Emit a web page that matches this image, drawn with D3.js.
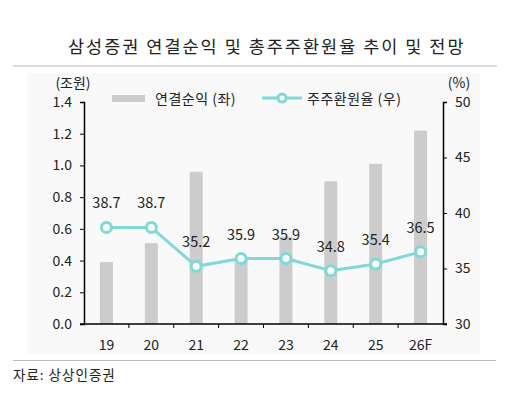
<!DOCTYPE html>
<html>
<head>
<meta charset="utf-8">
<script src="https://cdn.jsdelivr.net/npm/d3@7"></script>
<style>
  body { margin: 0; background: #fff; }
  text { font-family: "Noto Sans CJK KR", "Noto Sans", sans-serif; fill: #222; }
</style>
</head>
<body>
<script>
var width = 517,
    height = 399;

// data
var years = ["19", "20", "21", "22", "23", "24", "25", "26F"];
var netIncome = [0.39, 0.51, 0.96, 0.42, 0.55, 0.90, 1.01, 1.22];   // 조원
var payoutRatio = [38.7, 38.7, 35.2, 35.9, 35.9, 34.8, 35.4, 36.5]; // %
var leftTicks = [0, 0.2, 0.4, 0.6, 0.8, 1.0, 1.2, 1.4];
var rightTicks = [30, 35, 40, 45, 50];

var lineColor = "#7fd9d9",
    barColor = "#cccccc";

var margin = {left: 84, right: 74, top: 102, bottom: 75};

var svg = d3.select("body").append("svg")
    .attr("width", width)
    .attr("height", height);

// faint panel behind the chart
svg.append("rect")
    .attr("x", 27).attr("y", 73)
    .attr("width", 453).attr("height", 281)
    .attr("fill", "#f9f9f9");

// title + rules
svg.append("text")
    .attr("x", 68).attr("y", 53)
    .style("font-size", "17.5px")
    .style("letter-spacing", "2px")
    .text("삼성증권 연결순익 및 총주주환원율 추이 및 전망");

svg.append("line")
    .attr("x1", 13).attr("x2", 497).attr("y1", 66).attr("y2", 66)
    .attr("stroke", "#bbb").attr("stroke-width", 1);
svg.append("line")
    .attr("x1", 13).attr("x2", 496).attr("y1", 360.5).attr("y2", 360.5)
    .attr("stroke", "#bbb").attr("stroke-width", 1);

svg.append("text")
    .attr("x", 13).attr("y", 380)
    .style("font-size", "13.5px")
    .style("letter-spacing", "1px")
    .text("자료: 상상인증권");

var x = d3.scaleBand()
    .domain(years)
    .range([margin.left, width - margin.right]);

var yL = d3.scaleLinear().domain([0, 1.4]).range([height - margin.bottom, margin.top]);
var yR = d3.scaleLinear().domain([30, 50]).range([height - margin.bottom, margin.top]);

// bars
svg.selectAll(".bar")
    .data(netIncome)
  .enter().append("rect")
    .attr("class", "bar")
    .attr("x", function(d, i) { return x(years[i]) + x.bandwidth() / 2 - 6.5; })
    .attr("width", 13)
    .attr("y", function(d) { return yL(d); })
    .attr("height", function(d) { return yL(0) - yL(d); })
    .attr("fill", barColor);

// left axis
var gL = svg.append("g")
    .attr("transform", "translate(" + margin.left + ",0)")
    .call(d3.axisLeft(yL).tickValues(leftTicks).tickSize(4).tickPadding(8)
      .tickFormat(d3.format(".1f")));
// right axis
var gR = svg.append("g")
    .attr("transform", "translate(" + (width - margin.right) + ",0)")
    .call(d3.axisRight(yR).tickValues(rightTicks).tickSize(4).tickPadding(8));

// bottom axis, ticks between categories
var gB = svg.append("g")
    .attr("transform", "translate(0," + yL(0) + ")");
gB.append("line")
    .attr("x1", margin.left - 4).attr("x2", width - margin.right + 4)
    .attr("stroke", "#000").attr("stroke-width", 1.5);
gB.selectAll(".tk")
    .data(years.slice(1))
  .enter().append("line")
    .attr("x1", function(d) { return x(d); })
    .attr("x2", function(d) { return x(d); })
    .attr("y1", 0).attr("y2", 4)
    .attr("stroke", "#000");
gB.selectAll(".lbl")
    .data(years)
  .enter().append("text")
    .attr("x", function(d) { return x(d) + x.bandwidth() / 2; })
    .attr("y", 26)
    .attr("text-anchor", "middle")
    .style("font-size", "14px")
    .text(function(d) { return d; });

[gL, gR].forEach(function(g) {
  g.select(".domain").attr("stroke", "#000").attr("stroke-width", 1.5);
  g.selectAll(".tick line").attr("stroke", "#000");
  g.selectAll(".tick text").style("font-size", "14px").attr("fill", "#222");
});

// line
var line = d3.line()
    .x(function(d, i) { return x(years[i]) + x.bandwidth() / 2; })
    .y(function(d) { return yR(d); });

svg.append("path")
    .datum(payoutRatio)
    .attr("d", line)
    .attr("fill", "none")
    .attr("stroke", lineColor)
    .attr("stroke-width", 3);

svg.selectAll(".dot")
    .data(payoutRatio)
  .enter().append("circle")
    .attr("cx", function(d, i) { return x(years[i]) + x.bandwidth() / 2; })
    .attr("cy", function(d) { return yR(d); })
    .attr("r", 5)
    .attr("fill", "#fff")
    .attr("stroke", lineColor)
    .attr("stroke-width", 3);

svg.selectAll(".val")
    .data(payoutRatio)
  .enter().append("text")
    .attr("x", function(d, i) { return x(years[i]) + x.bandwidth() / 2; })
    .attr("y", function(d) { return yR(d) - 19; })
    .attr("text-anchor", "middle")
    .style("font-size", "14.5px")
    .text(function(d) { return d.toFixed(1); });

// unit labels
svg.append("text")
    .attr("x", 73).attr("y", 88)
    .attr("text-anchor", "middle")
    .style("font-size", "14px")
    .text("(조원)");
svg.append("text")
    .attr("x", 459).attr("y", 88)
    .attr("text-anchor", "middle")
    .style("font-size", "14px")
    .text("(%)");

// legend
var leg = svg.append("g");
leg.append("rect")
    .attr("x", 112).attr("y", 95)
    .attr("width", 33).attr("height", 7)
    .attr("fill", barColor);
leg.append("text")
    .attr("x", 155).attr("y", 104)
    .style("font-size", "14px")
    .style("letter-spacing", "0.5px")
    .text("연결순익 (좌)");
leg.append("line")
    .attr("x1", 262).attr("x2", 302).attr("y1", 98).attr("y2", 98)
    .attr("stroke", lineColor).attr("stroke-width", 3);
leg.append("circle")
    .attr("cx", 282).attr("cy", 98).attr("r", 4)
    .attr("fill", "#fff")
    .attr("stroke", lineColor).attr("stroke-width", 3);
leg.append("text")
    .attr("x", 307).attr("y", 104)
    .style("font-size", "14px")
    .style("letter-spacing", "0.5px")
    .text("주주환원율 (우)");
</script>
</body>
</html>
